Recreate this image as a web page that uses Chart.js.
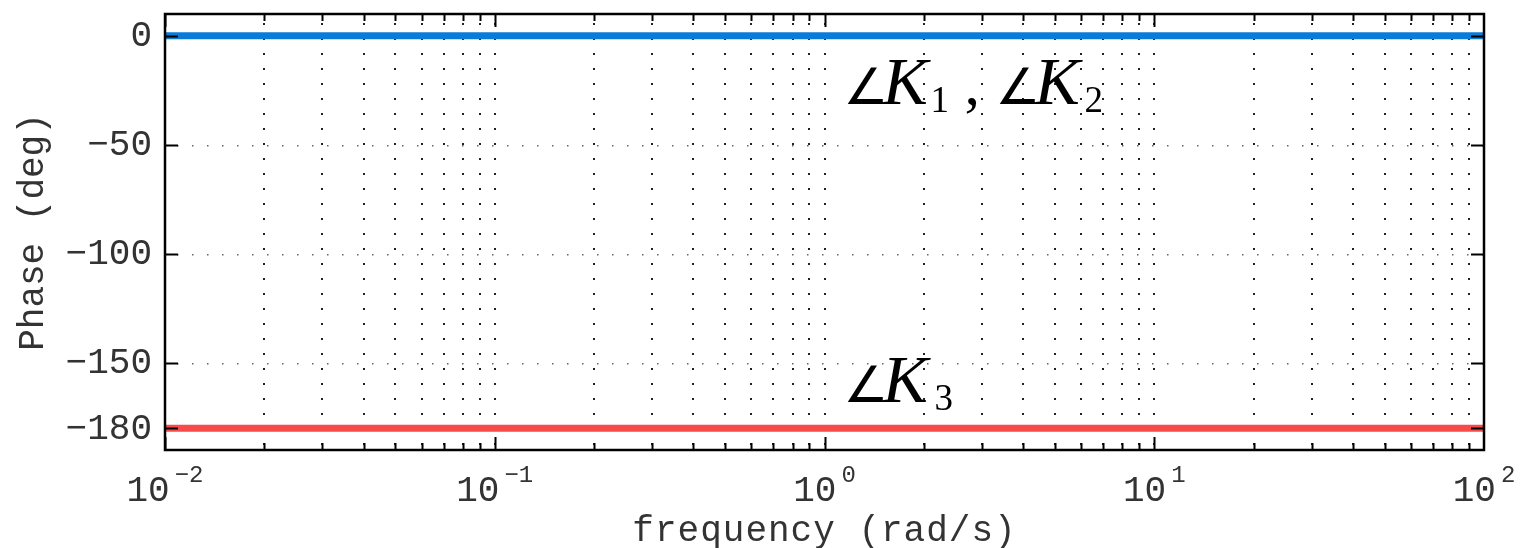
<!DOCTYPE html>
<html>
<head>
<meta charset="utf-8">
<title>Phase</title>
<script src="https://cdn.jsdelivr.net/npm/chart.js@4"></script>
<style>
  html, body { margin: 0; padding: 0; background: #fff; }
  canvas { display: block; }
</style>
</head>
<body>
<canvas id="phaseChart" width="1539" height="548"></canvas>
<script>
// frequency samples (rad/s) and phase of each gain (deg)
const freq = [0.01, 0.1, 1, 10, 100];
const phaseK12 = [0, 0, 0, 0, 0];
const phaseK3 = [-180, -180, -180, -180, -180];

// axis ticks
const yTicks = [0, -50, -100, -150, -180];
const xDecades = [-2, -1, 0, 1, 2];

// curve labels: anchor in data units, then pieces of text
const angleFont = '50px "DejaVu Sans"';
const kFont = 'italic 68px "Liberation Serif"';
const subFont = '37px "Liberation Serif"';
const curveLabels = [
  { x: 1.15, y: -31.5, parts: [
    { t: '\u2220', font: angleFont, dx: -1, dy: 0 },
    { t: 'K', font: kFont, dx: 38, dy: 0 },
    { t: '1', font: subFont, dx: 86, dy: 8 },
    { t: ',', font: '62px "Liberation Serif"', dx: 120, dy: 0 },
    { t: '\u2220', font: angleFont, dx: 151, dy: 0 },
    { t: 'K', font: kFont, dx: 190, dy: 0 },
    { t: '2', font: subFont, dx: 240, dy: 8 }
  ]},
  { x: 1.15, y: -168, parts: [
    { t: '\u2220', font: angleFont, dx: -1, dy: 0 },
    { t: 'K', font: kFont, dx: 38, dy: 0 },
    { t: '3', font: subFont, dx: 90, dy: 8 }
  ]}
];

function toPoints(ys) {
  return freq.map((f, i) => ({ x: f, y: ys[i] }));
}

const monoFont = '36px "Liberation Mono"';
const textColor = '#333';

// dotted grid, inward ticks, box and all the text
const bodeFrame = {
  id: 'bodeFrame',
  beforeDatasetsDraw(chart) {
    const ctx = chart.ctx;
    const a = chart.chartArea;
    const xs = chart.scales.x, ys = chart.scales.y;
    ctx.save();
    ctx.fillStyle = '#222';
    // vertical grid at every decade and sub-decade step
    for (let d = -2; d < 2; d++) {
      for (let m = 1; m < 10; m++) {
        const v = m * Math.pow(10, d);
        if (v <= 0.01) continue;
        const px = Math.round(xs.getPixelForValue(v));
        for (let py = a.top + 9; py < a.bottom; py += 15) {
          ctx.fillRect(px - 1, py, 2, 2);
        }
      }
    }
    // horizontal grid at the phase ticks
    ctx.fillStyle = '#666';
    yTicks.forEach(t => {
      const py = Math.round(ys.getPixelForValue(t));
      for (let px = a.left + 12; px < a.right; px += 15) {
        ctx.fillRect(px, py, 1.5, 1.5);
      }
    });
    ctx.restore();
  },
  afterDatasetsDraw(chart) {
    const ctx = chart.ctx;
    const a = chart.chartArea;
    const xs = chart.scales.x, ys = chart.scales.y;
    ctx.save();
    ctx.strokeStyle = '#000';
    ctx.lineWidth = 2;
    ctx.beginPath();
    for (let d = -2; d < 2; d++) {
      for (let m = 1; m < 10; m++) {
        const v = m * Math.pow(10, d);
        const px = Math.round(xs.getPixelForValue(v)) + 0.5;
        const len = m === 1 ? 13 : 7;
        ctx.moveTo(px, a.bottom); ctx.lineTo(px, a.bottom - len);
        ctx.moveTo(px, a.top); ctx.lineTo(px, a.top + len);
      }
    }
    yTicks.forEach(t => {
      const py = Math.round(ys.getPixelForValue(t)) + 0.5;
      ctx.moveTo(a.left, py); ctx.lineTo(a.left + 13, py);
      ctx.moveTo(a.right, py); ctx.lineTo(a.right - 13, py);
    });
    ctx.stroke();
    ctx.lineWidth = 2.5;
    ctx.strokeRect(a.left, a.top, a.right - a.left, a.bottom - a.top);
    ctx.restore();
  },
  afterDraw(chart) {
    const ctx = chart.ctx;
    const a = chart.chartArea;
    const xs = chart.scales.x, ys = chart.scales.y;
    ctx.save();
    ctx.fillStyle = textColor;

    // phase tick labels
    ctx.font = monoFont;
    ctx.textAlign = 'right';
    ctx.textBaseline = 'middle';
    yTicks.forEach(t => {
      const label = t < 0 ? '\u2212' + (-t) : String(t);
      ctx.fillText(label, a.left - 13, ys.getPixelForValue(t) + 1);
    });

    // decade labels 10^n
    ctx.textAlign = 'left';
    ctx.textBaseline = 'alphabetic';
    xDecades.forEach(d => {
      const px = xs.getPixelForValue(Math.pow(10, d));
      const exp = d < 0 ? '\u2212' + (-d) : String(d);
      ctx.font = monoFont;
      const w1 = ctx.measureText('10').width;
      ctx.font = '24px "Liberation Mono"';
      const w2 = ctx.measureText(exp).width;
      const x0 = px - (w1 + 5 + w2) / 2;
      ctx.font = monoFont;
      ctx.fillText('10', x0, a.bottom + 51);
      ctx.font = '24px "Liberation Mono"';
      ctx.fillText(exp, x0 + w1 + 5, a.bottom + 32);
    });

    // axis titles
    ctx.font = monoFont;
    ctx.textAlign = 'center';
    ctx.letterSpacing = '1px';
    ctx.fillText('frequency (rad/s)', (a.left + a.right) / 2, a.bottom + 91);
    ctx.letterSpacing = '0px';
    ctx.translate(43, (a.top + a.bottom) / 2);
    ctx.rotate(-Math.PI / 2);
    ctx.fillText('Phase (deg)', 0, 0);
    ctx.setTransform(1, 0, 0, 1, 0, 0);

    // curve labels
    ctx.fillStyle = '#000';
    ctx.textAlign = 'left';
    curveLabels.forEach(lbl => {
      const bx = xs.getPixelForValue(lbl.x);
      const by = ys.getPixelForValue(lbl.y);
      lbl.parts.forEach(p => {
        ctx.font = p.font;
        ctx.fillText(p.t, bx + p.dx, by + p.dy);
      });
    });
    ctx.restore();
  }
};

const ctx = document.getElementById('phaseChart').getContext('2d');
const phaseChart = new Chart(ctx, {
  type: 'line',
  data: {
    datasets: [
      {
        label: 'K1, K2',
        data: toPoints(phaseK12),
        borderColor: '#0a7bd9',
        borderWidth: 7,
        pointRadius: 0,
        fill: false
      },
      {
        label: 'K3',
        data: toPoints(phaseK3),
        borderColor: '#f74a4a',
        borderWidth: 7,
        pointRadius: 0,
        fill: false
      }
    ]
  },
  options: {
    responsive: false,
    animation: false,
    devicePixelRatio: 1,
    layout: { padding: { left: 165, top: 14, right: 55, bottom: 98 } },
    plugins: { legend: { display: false }, tooltip: { enabled: false } },
    scales: {
      x: { type: 'logarithmic', min: 0.01, max: 100, display: false },
      y: { type: 'linear', min: -190, max: 10, display: false }
    }
  },
  plugins: [bodeFrame]
});
</script>
</body>
</html>
